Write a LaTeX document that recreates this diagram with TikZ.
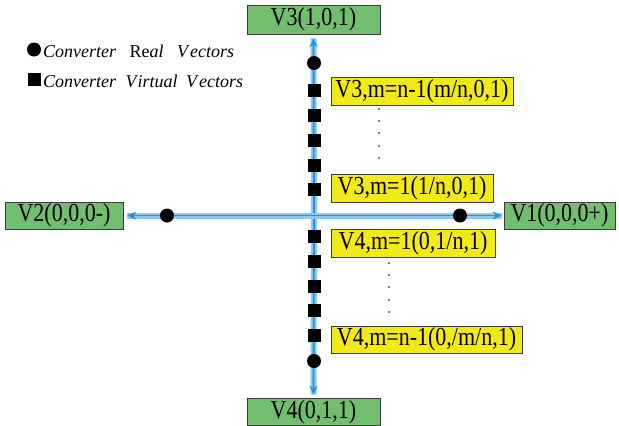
\documentclass[tikz,border=0pt]{standalone}
\usepackage{fontspec}
\setmainfont{Liberation Serif}
\usetikzlibrary{arrows.meta}
\definecolor{boxgreen}{RGB}{112,190,110}
\definecolor{boxyellow}{RGB}{242,234,22}
\definecolor{axisblue}{RGB}{28,150,228}
\definecolor{axisglow}{RGB}{140,200,242}
\definecolor{boxedge}{RGB}{60,60,60}
% box labels are set slightly taller than wide
\newcommand{\boxlabel}[1]{\scalebox{1}[1.18]{#1}}
\tikzset{
  vecbox/.style={draw=boxedge, line width=0.6pt, fill=boxgreen, inner sep=0pt,
    font=\fontsize{22}{24}\selectfont},
  virtbox/.style={draw=boxedge, line width=0.6pt, fill=boxyellow, inner sep=0pt,
    font=\fontsize{22}{24}\selectfont},
  axisline/.style={draw=axisblue, line width=1.8pt,
    preaction={draw=axisglow, line width=6pt, -},
    -{Stealth[length=9pt,width=8pt]}},
  realvec/.style={circle, fill=black, inner sep=0pt, minimum size=14pt},
  virtvec/.style={rectangle, fill=black, inner sep=0pt, minimum size=13pt},
  tinydot/.style={circle, fill=black, inner sep=0pt, minimum size=1.8pt},
  legendtext/.style={anchor=base west, inner sep=0pt, font=\fontsize{18}{20}\selectfont}
}
\begin{document}
\begin{tikzpicture}[x=1pt, y=-1pt]
\useasboundingbox (0,0) rectangle (619,426);

% switching state boxes
\node[vecbox, minimum width=133pt, minimum height=29pt] (V3) at (313.5,19.5) {\boxlabel{V3(1,0,1)}};
\node[vecbox, minimum width=133pt, minimum height=27pt] (V4) at (313.5,412) {\boxlabel{V4(0,1,1)}};
\node[vecbox, minimum width=118pt, minimum height=27pt] (V2) at (64,215.5) {\boxlabel{V2(0,0,0-)}};
\node[vecbox, minimum width=111pt, minimum height=27pt] (V1) at (559.5,215.5) {\boxlabel{V1(0,0,0+)}};

% axes
\coordinate (O) at (314,215.5);
\draw[axisline, shorten >=4pt] (O) -- (V3.south);
\draw[axisline, shorten >=3.5pt] (O) -- (V4.north);
\draw[axisline, shorten >=4pt] (O) -- (V2.east);
\draw[axisline, shorten >=2pt] (O) -- (V1.west);

% real vectors
\node[realvec] (r3) at (314,63) {};
\node[realvec] (r4) at (314,361) {};
\node[realvec] (r2) at (167,215.5) {};
\node[realvec] (r1) at (460,215.5) {};

% virtual vectors
\foreach \y [count=\i] in {90,115,140,165,189} \node[virtvec] (u\i) at (314.5,\y) {};
\foreach \y [count=\i] in {236,261,286,310,335} \node[virtvec] (d\i) at (314.5,\y) {};

% virtual vector labels
\node[virtbox, minimum width=182pt, minimum height=28pt] (Y1) at (422,91) {\boxlabel{V3,m=n-1(m/n,0,1)}};
\node[virtbox, minimum width=162pt, minimum height=28pt] (Y2) at (412,188) {\boxlabel{V3,m=1(1/n,0,1)}};
\node[virtbox, minimum width=164pt, minimum height=28pt] (Y3) at (413,243) {\boxlabel{V4,m=1(0,1/n,1)}};
\node[virtbox, minimum width=191pt, minimum height=27pt] (Y4) at (426.5,339.5) {\boxlabel{V4,m=n-1(0,/m/n,1)}};

% ellipsis dots
\foreach \y [count=\i] in {109,121,133,146,158} \node[tinydot] (a\i) at (379,\y) {};
\foreach \y [count=\i] in {263,275,287,300,312} \node[tinydot] (b\i) at (389,\y) {};

% legend
\node[realvec] (lr) at (34,49.5) {};
\node[virtvec] (lv) at (34,79.5) {};
\node[legendtext] (lt1) at (43,57) {\textit{Converter}\hspace{9pt} Re\textit{al}\hspace{9pt} \textit{V\hspace{2pt}ectors}};
\node[legendtext] (lt2) at (43,87) {\textit{Converter}\hspace{5pt} \textit{V\hspace{1pt}irtual}\hspace{4pt} \textit{V\hspace{2pt}ectors}};
\end{tikzpicture}
\end{document}
